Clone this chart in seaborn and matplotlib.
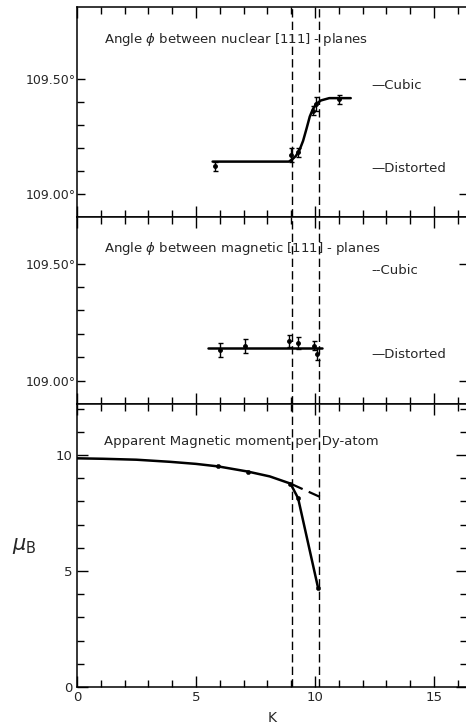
import matplotlib
matplotlib.use("Agg")
import matplotlib.pyplot as plt
import seaborn as sns
from matplotlib.ticker import MultipleLocator, FixedLocator, FuncFormatter

# transition temperatures (dashed verticals), K
transitions = [9.05, 10.15]

# angle between nuclear [111] planes
nuc_t = [5.8, 9.0, 9.28, 9.9, 10.05, 11.0]
nuc_phi = [109.12, 109.17, 109.18, 109.36, 109.39, 109.41]
nuc_err = [0.02, 0.03, 0.02, 0.02, 0.03, 0.02]
nuc_fit_t = [5.7, 8.9, 9.05, 9.2, 9.35, 9.5, 9.65, 9.78, 9.9, 10.05, 10.25, 10.6, 11.5]
nuc_fit_phi = [109.14, 109.14, 109.15, 109.165, 109.19, 109.23, 109.285, 109.335, 109.365,
               109.39, 109.405, 109.415, 109.415]

# angle between magnetic [111] planes
mag_t = [6.0, 7.05, 8.9, 9.27, 9.95, 10.1]
mag_phi = [109.13, 109.15, 109.17, 109.16, 109.15, 109.115]
mag_err = [0.03, 0.03, 0.025, 0.025, 0.02, 0.025]
mag_fit_t = [5.5, 10.3]
mag_fit_phi = [109.14, 109.14]

# reference angles
ref_labels = ["Cubic", "Distorted"]
ref_phi = [109.47, 109.11]

# apparent magnetic moment per Dy atom
mom_t = [5.94, 7.17, 8.97, 9.29, 10.13]
mom_mu = [9.51, 9.29, 8.77, 8.14, 4.27]
mom_fit_t = [0, 1.1, 2.5, 3.9, 5.0, 5.94, 7.17, 8.1, 8.97, 9.29, 10.13]
mom_fit_mu = [9.86, 9.84, 9.80, 9.71, 9.62, 9.51, 9.29, 9.08, 8.77, 8.14, 4.27]
mom_ext_t = [8.97, 10.2]
mom_ext_mu = [8.77, 8.2]

sns.set_style("ticks")
plt.rcParams["font.family"] = ["DejaVu Sans"]
plt.rcParams["font.size"] = 9

fig = plt.figure(figsize=(4.66, 7.25), dpi=100)
ax1 = fig.add_axes([0.165, 0.7007, 0.838, 0.2897])
ax2 = fig.add_axes([0.165, 0.4428, 0.838, 0.2579])
ax3 = fig.add_axes([0.165, 0.0524, 0.838, 0.3903])

deg = FuncFormatter(lambda v, p: f"{v:.2f}°")

for ax in (ax1, ax2, ax3):
    ax.set_xlim(0, 16.4)
    ax.xaxis.set_major_locator(MultipleLocator(5))
    ax.xaxis.set_minor_locator(MultipleLocator(1))
    ax.tick_params(which="both", direction="in", top=True, right=True, color="k", pad=2)
    ax.tick_params(which="major", length=8, width=1)
    ax.tick_params(which="minor", length=5, width=1)
    ax.tick_params(axis="y", pad=0.8)
    for s in ax.spines.values():
        s.set_linewidth(1.1)
        s.set_color("k")
    for x in transitions:
        ax.axvline(x, color="k", lw=1, ls=(0, (6, 3)))

# top panel: nuclear
ax1.set_ylim(108.9, 109.81)
sns.lineplot(x=nuc_fit_t, y=nuc_fit_phi, ax=ax1, color="k", lw=1.8, sort=False, estimator=None)
ax1.errorbar(nuc_t, nuc_phi, yerr=nuc_err, fmt="o", color="k", ms=2.5, capsize=1.8, lw=1)
ax1.text(0.07, 0.843, "Angle $\\phi$ between nuclear [111] - planes", transform=ax1.transAxes,
         fontsize=9.5, va="center")

# middle panel: magnetic
ax2.set_ylim(108.9, 109.7)
sns.lineplot(x=mag_fit_t, y=mag_fit_phi, ax=ax2, color="k", lw=1.8, sort=False, estimator=None)
ax2.errorbar(mag_t, mag_phi, yerr=mag_err, fmt="o", color="k", ms=2.5, capsize=1.8, lw=1)
ax2.text(0.07, 0.83, "Angle $\\phi$ between magnetic [111] - planes", transform=ax2.transAxes,
         fontsize=9.5, va="center")

for ax, marks in ((ax1, ["—", "—"]), (ax2, ["--", "—"])):
    ax.yaxis.set_major_locator(FixedLocator([109.0, 109.5]))
    ax.yaxis.set_minor_locator(FixedLocator([109.1, 109.2, 109.3, 109.4]))
    ax.yaxis.set_major_formatter(deg)
    ax.tick_params(axis="y", which="minor", right=False)
    ax.tick_params(axis="y", which="major", length=6)
    ax.tick_params(axis="x", labelbottom=False)
    for lab, phi, m in zip(ref_labels, ref_phi, marks):
        ax.text(0.755, phi, m + lab, transform=ax.get_yaxis_transform(), va="center", fontsize=9.5)

# bottom panel: moment
ax3.set_ylim(0, 12.2)
ax3.yaxis.set_major_locator(MultipleLocator(5))
ax3.yaxis.set_minor_locator(MultipleLocator(1))
sns.lineplot(x=mom_fit_t, y=mom_fit_mu, ax=ax3, color="k", lw=1.8, sort=False, estimator=None)
sns.lineplot(x=mom_ext_t, y=mom_ext_mu, ax=ax3, color="k", lw=1.6, ls=(0, (6, 3)), sort=False, estimator=None)
sns.scatterplot(x=mom_t, y=mom_mu, ax=ax3, color="k", s=10, edgecolor="k")
ax3.text(0.07, 0.866, "Apparent Magnetic moment per Dy-atom", transform=ax3.transAxes,
         fontsize=9.5, va="center")
ax3.set_xlabel("K", fontsize=10, labelpad=5)
ax3.set_ylabel("$\\mu_{\\mathrm{B}}$", fontsize=15, rotation=0, labelpad=22, va="center")
ax3.tick_params(axis="both", labelsize=9.5)
ax3.tick_params(axis="y", pad=3.5)
ax3.tick_params(axis="x", pad=3)

fig.savefig("out.png", dpi=100)
